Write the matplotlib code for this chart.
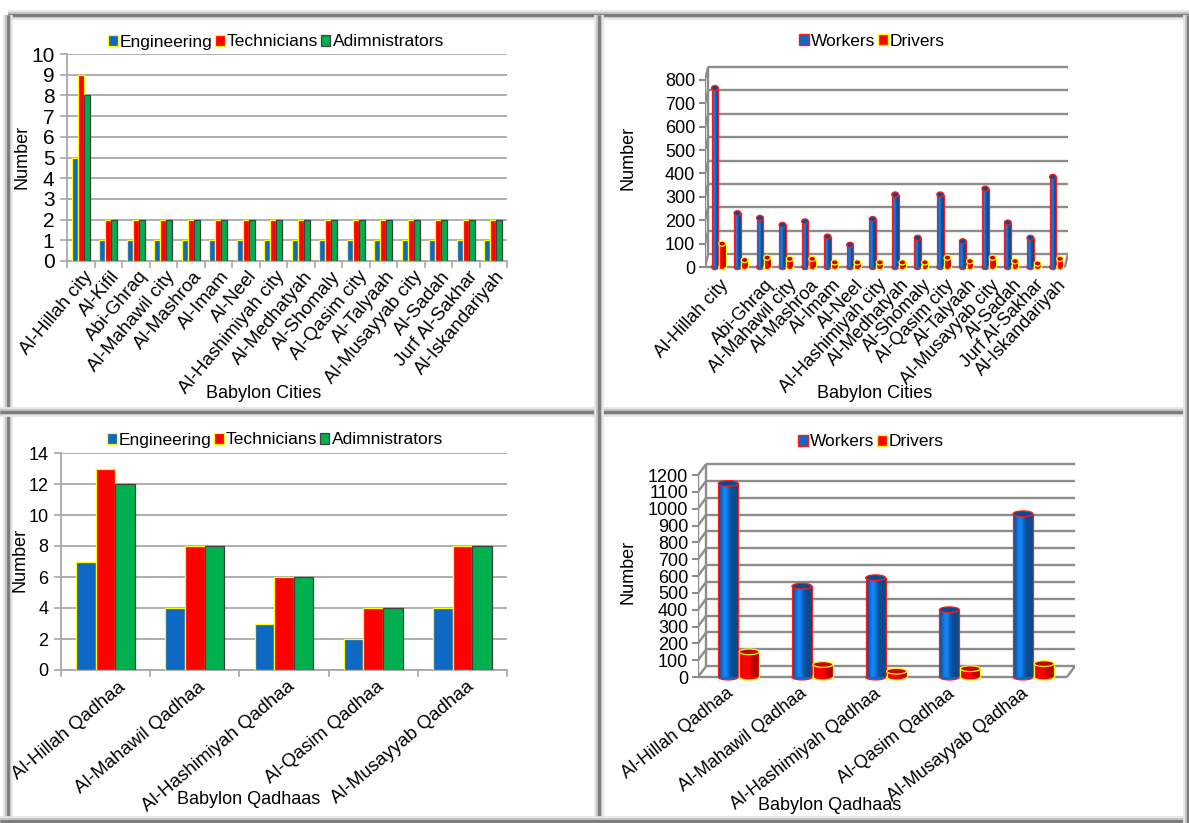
import numpy as np
import matplotlib
matplotlib.use("Agg")
import matplotlib.pyplot as plt
from matplotlib.patches import Ellipse, Patch
from matplotlib.lines import Line2D

plt.rcParams['font.family'] = ['Liberation Sans', 'DejaVu Sans']

# ---- data ----
cities = ['Al-Hillah city', 'Al-Kifil', 'Abi-Ghraq', 'Al-Mahawil city', 'Al-Mashroa',
          'Al-Imam', 'Al-Neel', 'Al-Hashimiyah city', 'Al-Medhatyah', 'Al-Shomaly',
          'Al-Qasim city', 'Al-Talyaah', 'Al-Musayyab city', 'Al-Sadah',
          'Jurf Al-Sakhar', 'Al-Iskandariyah']
# the 3D chart skips the Al-Kifil label
cities_3d = ['Al-Hillah city', '', 'Abi-Ghraq', 'Al-Mahawil city', 'Al-Mashroa',
             'Al-Imam', 'Al-Neel', 'Al-Hashimiyah city', 'Al-Medhatyah', 'Al-Shomaly',
             'Al-Qasim city', 'Al-Talyaah', 'Al-Musayyab city', 'Al-Sadah',
             'Jurf Al-Sakhar', 'Al-Iskandariyah']
city_engineering = [5, 1, 1, 1, 1, 1, 1, 1, 1, 1, 1, 1, 1, 1, 1, 1]
city_technicians = [9, 2, 2, 2, 2, 2, 2, 2, 2, 2, 2, 2, 2, 2, 2, 2]
city_admin = [8, 2, 2, 2, 2, 2, 2, 2, 2, 2, 2, 2, 2, 2, 2, 2]
city_workers = [765, 230, 210, 180, 195, 130, 95, 205, 310, 125, 310, 110, 335, 190, 125, 385]
city_drivers = [100, 30, 40, 35, 35, 20, 20, 20, 20, 20, 40, 25, 40, 25, 15, 35]

qadhaas = ['Al-Hillah Qadhaa', 'Al-Mahawil Qadhaa', 'Al-Hashimiyah Qadhaa',
           'Al-Qasim Qadhaa', 'Al-Musayyab Qadhaa']
qadhaa_engineering = [7, 4, 3, 2, 4]
qadhaa_technicians = [13, 8, 6, 4, 8]
qadhaa_admin = [12, 8, 6, 4, 8]
qadhaa_workers = [1150, 540, 590, 400, 970]
qadhaa_drivers = [150, 75, 35, 50, 80]

BLUE, RED, GREEN, YEL = '#0f68c4', '#ff0000', '#00b04f', '#ffff00'
GRID = '#a8a8a8'

W, H = 1189, 823
fig = plt.figure(figsize=(W / 100, H / 100), dpi=100)


def box(l, t, r, b):
    return fig.add_axes([l / W, 1 - b / H, (r - l) / W, (b - t) / H])


def ftext(x, y, s, **kw):
    fig.text(x / W, 1 - y / H, s, ha='center', va='center', **kw)


def legend(ax, cx, cy, ncol, handles=None):
    kw = dict(loc='center', bbox_to_anchor=(cx / W, 1 - cy / H), bbox_transform=fig.transFigure,
              ncol=ncol, frameon=False, fontsize=12.5, handlelength=0.55, handleheight=0.55,
              handletextpad=0.12, columnspacing=0.15, borderaxespad=0)
    if handles:
        ax.legend(handles=handles, **kw)
    else:
        ax.legend(**kw)


def flat_panel(ax, labels, series, ymax, step, rot, xfs, yfs, pad, shift):
    x = np.arange(len(labels))
    w = 0.22
    for k, (vals, col, edge, name) in enumerate(series):
        ax.bar(x + (k - 1) * w, vals, w, color=col, edgecolor=edge, linewidth=0.9,
               label=name, zorder=3)
    ax.set_xlim(-0.5, len(labels) - 0.5)
    ax.set_ylim(0, ymax)
    ax.set_yticks(np.arange(0, ymax + 1, step))
    ax.yaxis.grid(True, color=GRID, lw=1.3)
    ax.set_axisbelow(True)
    for s in ['top', 'right']:
        ax.spines[s].set_visible(False)
    for s in ['left', 'bottom']:
        ax.spines[s].set_color(GRID)
        ax.spines[s].set_linewidth(1.3)
    ax.set_xticks(x + np.array(shift))
    ax.set_xticklabels(labels, rotation=rot, ha='right', rotation_mode='anchor')
    ax.set_xticks(np.arange(-0.5, len(labels)), minor=True)
    ax.tick_params(axis='x', which='major', length=0, pad=pad, labelsize=xfs)
    ax.tick_params(axis='x', which='minor', length=5, color=GRID, width=1.2)
    ax.tick_params(axis='y', length=5, color=GRID, width=1.2, labelsize=yfs, pad=4)


def cylinder(ax, xc, v, bw, eh, col, edge, top, z):
    prof = np.linspace(0, 1, 40)
    f = 0.72 + 0.55 * np.exp(-((prof - 0.35) / 0.22) ** 2)
    rgb = np.clip(np.array(matplotlib.colors.to_rgb(col))[None, :] * f[:, None], 0, 1)
    ax.add_patch(Ellipse((xc, 0), bw, eh, facecolor=col, edgecolor=edge, lw=0.9, zorder=z))
    bar = ax.bar(xc, v, bw, color=col, edgecolor='none', zorder=z + 0.1)[0]
    im = ax.imshow(rgb[None, :, :], extent=[xc - bw / 2, xc + bw / 2, 0, v], aspect='auto',
                   interpolation='bicubic', zorder=z + 0.2)
    im.set_clip_path(bar)
    ax.plot([xc - bw / 2, xc - bw / 2], [0, v], color=edge, lw=0.9, zorder=z + 0.3)
    ax.plot([xc + bw / 2, xc + bw / 2], [0, v], color=edge, lw=0.9, zorder=z + 0.3)
    ax.add_patch(Ellipse((xc, v), bw, eh, facecolor=top, edgecolor=edge, lw=0.9, zorder=z + 0.4))


def cyl_panel(ax, labels, workers, drivers, xlim, ylim, ymax, step, dx, dy, bw, off, eh,
              rot, pad, shift):
    x = np.arange(len(labels))
    x0, x1 = xlim
    lc = dict(color='#8c8c8c', lw=1.7, zorder=1, solid_capstyle='butt')
    for v in np.arange(0, ymax + 1, step):
        ax.plot([x0 + dx, x1], [v + dy, v + dy], **lc)
        ax.plot([x0, x0 + dx], [v, v + dy], **lc)
    ax.plot([x0 + dx, x0 + dx], [dy, ymax + dy], **lc)
    ax.plot([x0, x0], [0, ymax], **lc)
    ax.plot([x0, x1 - dx], [0, 0], **lc)
    ax.plot([x1 - dx, x1], [0, dy], **lc)
    for i in range(len(labels)):
        cylinder(ax, x[i], workers[i], bw, eh, BLUE, '#ff1a1a', '#0a4c94', 3)
        cylinder(ax, x[i] + off, drivers[i], bw, eh, RED, YEL, '#c80000', 4)
    ax.set_xlim(xlim)
    ax.set_ylim(ylim)
    for s in ax.spines.values():
        s.set_visible(False)
    ax.set_yticks(np.arange(0, ymax + 1, step))
    ax.tick_params(axis='y', length=4, color='#8c8c8c', width=1.5, labelsize=13, pad=3)
    ax.set_xticks(x + off / 2 + shift)
    ax.set_xticklabels(labels, rotation=rot, ha='right', rotation_mode='anchor')
    ax.tick_params(axis='x', length=0, labelsize=13, pad=pad)


cyl_handles = [Patch(facecolor=BLUE, edgecolor='#ff1a1a', label='Workers'),
               Patch(facecolor=RED, edgecolor=YEL, label='Drivers')]

# ---- top left ----
ax1 = box(67, 54, 507, 261)
flat_panel(ax1, cities,
           [(city_engineering, BLUE, YEL, 'Engineering'),
            (city_technicians, RED, YEL, 'Technicians'),
            (city_admin, GREEN, '#404040', 'Adimnistrators')],
           10, 1, 50, 13.5, 15, 5, 0.08)
legend(ax1, 276, 42, 3)
ftext(22, 157, 'Number', fontsize=13, rotation=90)
ftext(264, 393, 'Babylon Cities', fontsize=13)

# ---- top right ----
ax2 = box(705, 60, 1068, 275)
cyl_panel(ax2, cities_3d, city_workers, city_drivers, (-0.44, 15.67), (-34, 885),
          800, 100, 0.14, 55, 0.3, 0.32, 22, 47, 1, 0.05)
legend(ax2, 872, 41, 2, cyl_handles)
ftext(628, 158, 'Number', fontsize=13, rotation=90)
ftext(875, 393, 'Babylon Cities', fontsize=13)

# ---- bottom left ----
ax3 = box(61, 453, 507, 670)
flat_panel(ax3, qadhaas,
           [(qadhaa_engineering, BLUE, YEL, 'Engineering'),
            (qadhaa_technicians, RED, YEL, 'Technicians'),
            (qadhaa_admin, GREEN, '#404040', 'Adimnistrators')],
           14, 2, 40, 13.5, 13, 6, [0.14, 0.03, 0.03, 0.04, 0.04])
legend(ax3, 275, 440, 3)
ftext(20, 560, 'Number', fontsize=13, rotation=90)
ftext(249, 800, 'Babylon Qadhaas', fontsize=13)

# ---- bottom right ----
ax4 = box(698, 455, 1075, 685)
cyl_panel(ax4, qadhaas, qadhaa_workers, qadhaa_drivers, (-0.41, 4.705), (-47, 1319),
          1200, 100, 0.11, 65, 0.27, 0.285, 34, 38, 0, -0.17)
legend(ax4, 871, 442, 2, cyl_handles)
ftext(628, 572, 'Number', fontsize=13, rotation=90)
ftext(830, 806, 'Babylon Qadhaas', fontsize=13)

# ---- panel frames ----
def frame_line(xs, ys):
    for lw, c in [(7, '#e6e6e6'), (4, '#bdbdbd'), (2, '#7a7a7a')]:
        fig.add_artist(Line2D([x / W for x in xs], [1 - y / H for y in ys], lw=lw, color=c,
                              solid_capstyle='butt'))

frame_line([8, W], [15, 15])
frame_line([8, 8], [15, H])
frame_line([0, W], [412, 412])
frame_line([599, 599], [15, H])
frame_line([0, W], [821, 821])
frame_line([W - 1, W - 1], [15, H])

fig.savefig('out.png', dpi=100)
